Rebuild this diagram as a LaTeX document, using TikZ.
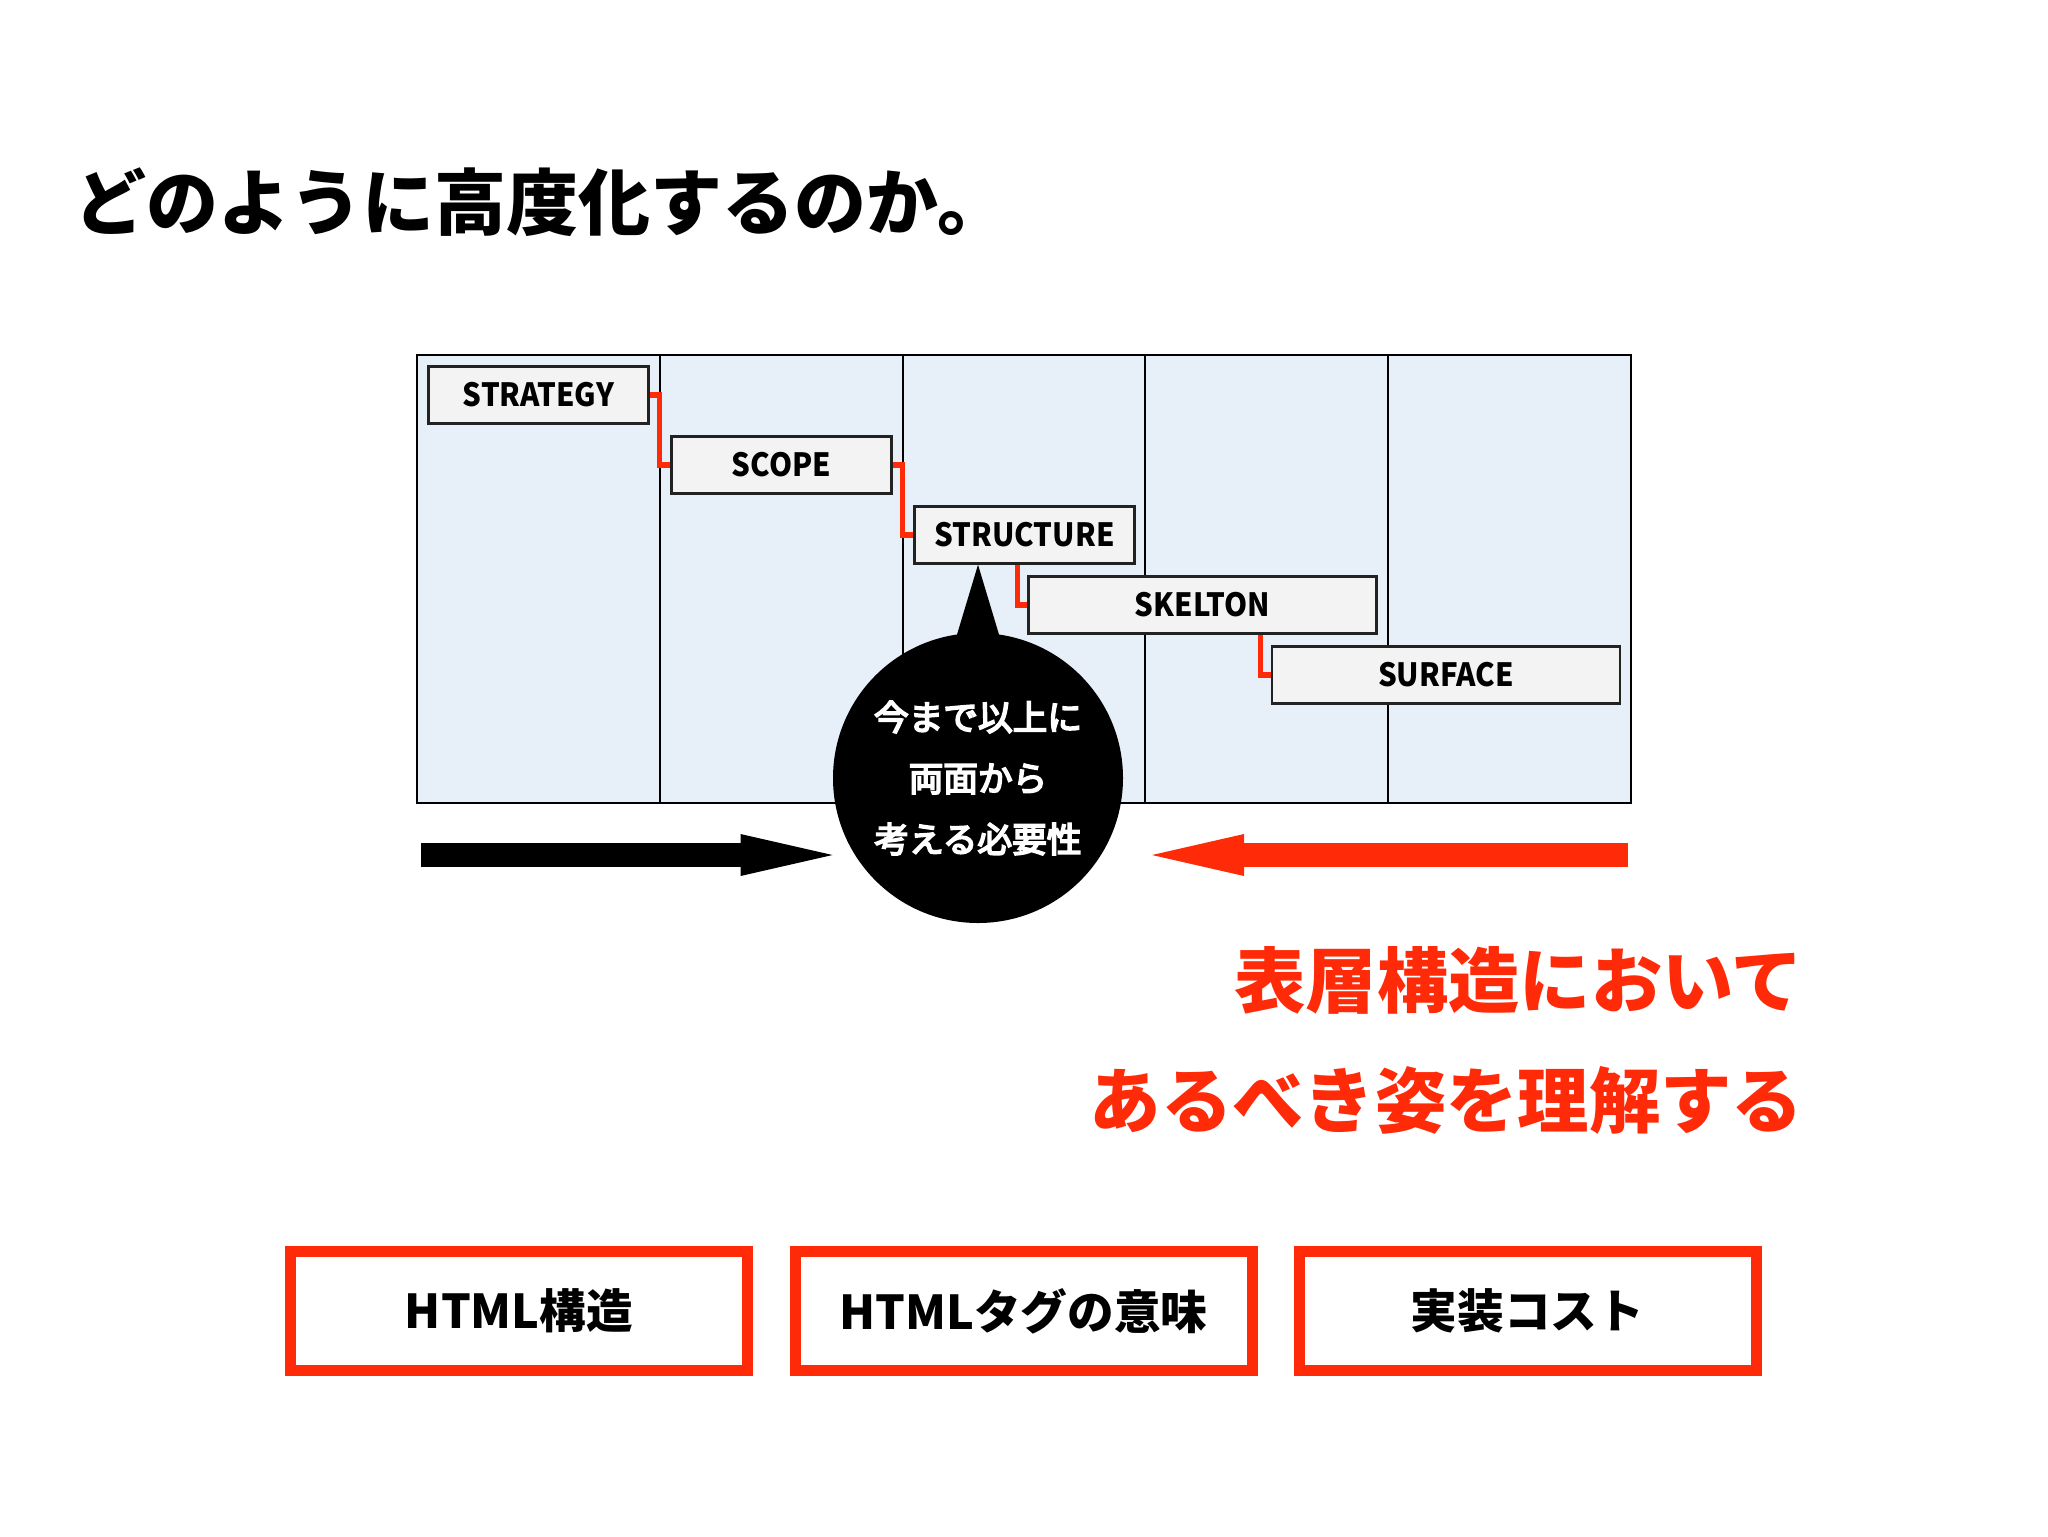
\documentclass[tikz,border=0pt]{standalone}
\usepackage{fontspec}
\setmainfont{Noto Sans CJK JP}
\newfontfamily\layerfont{Noto Sans CJK JP}[FakeStretch=0.92]
\newfontfamily\bubblefont{Noto Sans CJK JP}[FakeBold=5]
\usetikzlibrary{arrows.meta,calc}
\definecolor{slidered}{RGB}{255,42,8}
\definecolor{panelblue}{RGB}{231,239,248}
\definecolor{boxgrey}{RGB}{243,243,243}
\tikzset{every picture/.style={line width=0.75pt}}
\tikzset{
  layerbox/.style={draw={rgb,255:red,34;green,34;blue,34},fill=boxgrey,line width=1.8pt,minimum width=165pt,minimum height=42.75pt,inner sep=0pt,font=\layerfont\fontsize{24}{28}\selectfont\bfseries},
  stepline/.style={draw=slidered,line width=3.8pt},
  bubble/.style={circle,fill=black,text=white,minimum size=217.5pt,inner sep=0pt,align=center,font=\bubblefont\fontsize{26}{45.75}\selectfont},
  fatarrow/.style={line width=18pt,-{Triangle[length=69pt,width=31.5pt,line width=0pt]}},
  redtext/.style={text=slidered,anchor=base east,font=\fontsize{53.5}{60}\selectfont\bfseries},
  costbox/.style={draw=slidered,line width=8.25pt,minimum width=342.75pt,minimum height=89.25pt,inner sep=0pt,font=\fontsize{35}{40}\selectfont\bfseries}
}
\begin{document}
\begin{tikzpicture}[x=0.75pt,y=0.75pt,yscale=-1,xscale=1]
\useasboundingbox (0,0) rectangle (2048,1536);

%Title
\node[anchor=base west,font=\fontsize{54}{60}\selectfont\bfseries] (title) at (70,229) {どのように高度化するのか。};

%Shape: Rectangle (five columns)
\draw[fill=panelblue,line width=1.1pt] (417,355) rectangle (1631,803);
\foreach \x in {660,903,1145,1388}
  \draw[line width=1.1pt] (\x,355) -- (\x,803);

%Layer boxes
\node[layerbox] (strategy) at (538.5,395) {STRATEGY};
\node[layerbox] (scope) at (781.5,465) {SCOPE};
\node[layerbox] (structure) at (1024.5,535) {STRUCTURE};
\node[layerbox,minimum width=261pt] (skelton) at (1202.5,605) {SKELTON};
\node[layerbox,minimum width=261pt] (surface) at (1446,675) {SURFACE};

%Red steps
\draw[stepline] (strategy.east) -- ++(10,0) |- (scope.west);
\draw[stepline] (scope.east) -- ++(10,0) |- (structure.west);
\path (skelton.west) ++(-10,0) coordinate (k3);
\draw[stepline] (k3 |- structure.south) -- (k3) -- (skelton.west);
\path (surface.west) ++(-10,0) coordinate (k4);
\draw[stepline] (k4 |- skelton.south) -- (k4) -- (surface.west);

%Speech bubble
\node[bubble] (need) at (978,778) {\color{white}今まで以上に\\両面から\\考える必要性};
\fill (need.center |- structure.south) -- ($(need.north)+(-24,12)$) -- ($(need.north)+(24,12)$) -- cycle;

%Arrows
\coordinate (lefttail) at (421,855);
\draw[fatarrow] (lefttail) -- (lefttail -| need.west);
\coordinate (righttail) at (1628,855);
\coordinate (righttip) at (1152,855);
\draw[fatarrow,slidered] (righttail) -- (righttip);

%Red message
\node[redtext] (goal1) at (1808,1007) {表層構造において};
\node[redtext] (goal2) at (1808,1127) {あるべき姿を理解する};

%Bottom boxes
\node[costbox] (htmlstruct) at (519,1311) {HTML構造};
\node[costbox] (htmltag) at (1023.5,1311) {HTMLタグの意味};
\node[costbox] (implcost) at (1527.5,1311) {実装コスト};

\end{tikzpicture}
\end{document}
